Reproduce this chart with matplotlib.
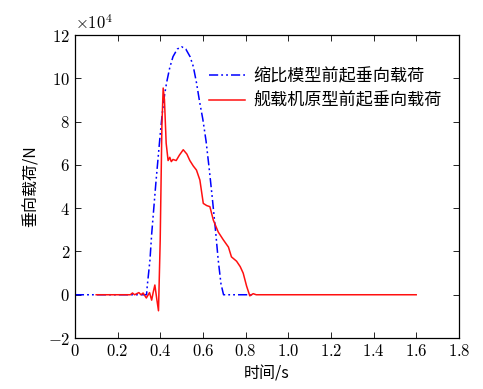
import numpy as np
import matplotlib
matplotlib.use("Agg")
import matplotlib.pyplot as plt
from matplotlib.ticker import FormatStrFormatter, FuncFormatter

plt.rcParams['mathtext.fontset'] = 'cm'
plt.rcParams['font.family'] = ['Noto Sans CJK SC', 'DejaVu Sans']

# scale model nose gear vertical load (x1e4 N)
t_model = [0.0, 0.336, 0.339, 0.352, 0.36, 0.37, 0.38, 0.39, 0.40, 0.41,
           0.42, 0.43, 0.445, 0.46, 0.48, 0.50, 0.52, 0.54, 0.555, 0.57,
           0.585, 0.60, 0.615, 0.63, 0.645, 0.66, 0.672, 0.685, 0.697, 0.84]
f_model = [0.0, 0.0, 0.37, 1.6, 2.8, 4.0, 5.2, 6.3, 7.4, 8.4,
           9.2, 9.8, 10.5, 11.0, 11.35, 11.46, 11.35, 11.0, 10.55, 9.8,
           8.9, 8.1, 7.1, 5.8, 4.4, 2.9, 1.6, 0.5, 0.0, 0.0]

# full-size aircraft nose gear vertical load (x1e4 N)
t_full = [0.10, 0.20, 0.26, 0.27, 0.28, 0.30, 0.31, 0.32, 0.335, 0.35,
          0.36, 0.367, 0.375, 0.384, 0.392, 0.40, 0.408, 0.414, 0.42, 0.428,
          0.437, 0.445, 0.452, 0.46, 0.475, 0.49, 0.508, 0.525, 0.539, 0.555,
          0.57, 0.586, 0.602, 0.618, 0.633, 0.649, 0.672, 0.695, 0.72, 0.734,
          0.758, 0.775, 0.789, 0.805, 0.82, 0.836, 0.85, 1.0, 1.2, 1.4, 1.6]
f_full = [0.0, 0.0, 0.0, 0.08, 0.0, 0.1, 0.0, 0.08, -0.15, 0.1,
          -0.25, 0.1, 0.45, -0.2, -0.74, 2.5, 7.8, 9.55, 9.0, 7.0,
          6.2, 6.35, 6.15, 6.25, 6.2, 6.45, 6.7, 6.5, 6.2, 5.95,
          5.76, 5.3, 4.22, 4.12, 4.07, 3.45, 2.9, 2.55, 2.2, 1.75,
          1.55, 1.3, 1.0, 0.4, -0.05, 0.05, 0.0, 0.0, 0.0, 0.0, 0.0]

x_ticks = [0, 0.2, 0.4, 0.6, 0.8, 1.0, 1.2, 1.4, 1.6, 1.8]
y_ticks = [-2, 0, 2, 4, 6, 8, 10, 12]

fig = plt.figure(figsize=(4.83, 3.89), dpi=100)
ax = fig.add_axes([0.155, 0.131, 0.795, 0.779])

ax.plot(t_model, f_model, color='#0000FF', lw=1.1, dashes=(6, 2, 1.2, 2, 1.2, 2),
        label='缩比模型前起垂向载荷')
ax.plot(t_full, f_full, color='#FF1010', lw=1.1, label='舰载机原型前起垂向载荷')

ax.set_xlim(0, 1.8)
ax.set_ylim(-2, 12)
ax.set_xticks(x_ticks)
ax.set_yticks(y_ticks)
ax.xaxis.set_major_formatter(FuncFormatter(lambda v, p: '$0$' if v == 0 else '$%.1f$' % v))
ax.yaxis.set_major_formatter(FormatStrFormatter('$%g$'))
ax.tick_params(direction='in', top=True, right=True, labelsize=12, length=4, width=0.6)
for s in ax.spines.values():
    s.set_linewidth(0.9)

ax.text(0.0, 1.005, r'$\times10^4$', transform=ax.transAxes, fontsize=12,
        ha='left', va='bottom')

ax.set_xlabel('时间/s', fontsize=11.5, labelpad=4)
ax.set_ylabel('垂向载荷/N', fontsize=11.5, labelpad=6)

ax.legend(loc='upper left', bbox_to_anchor=(0.31, 0.945), frameon=False,
          fontsize=12.3, handlelength=2.1, handletextpad=0.45, labelspacing=0.4)

fig.savefig('out.png', dpi=100)
